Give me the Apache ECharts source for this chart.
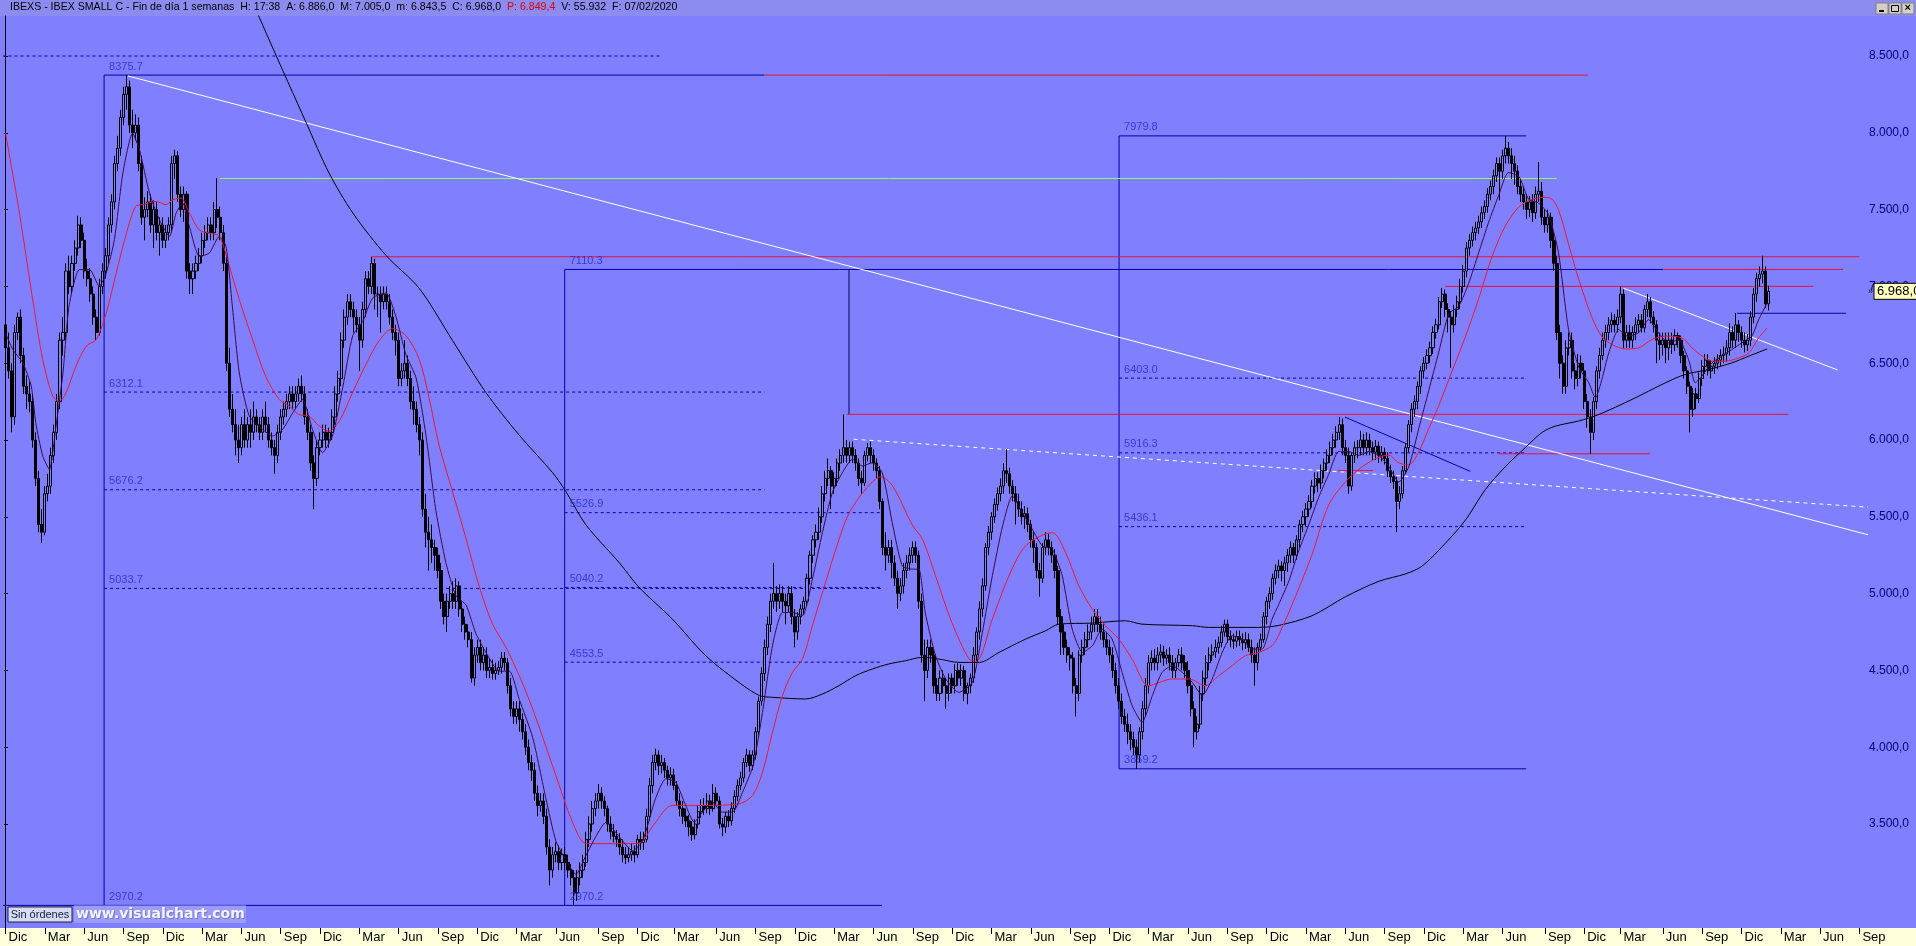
<!DOCTYPE html>
<html><head><meta charset="utf-8">
<script src="https://cdn.jsdelivr.net/npm/echarts@6/dist/echarts.min.js"></script>
<style>
html,body{margin:0;padding:0;width:1916px;height:946px;overflow:hidden;background:#8080ff;}
#hdr{position:absolute;left:0;top:0;width:1916px;height:16px;background:#8c8cf0;}
#strip{position:absolute;left:0;top:928px;width:1916px;height:18px;background:#ffffdc;}
#chart{position:absolute;left:0;top:0;width:1916px;height:946px;}
</style></head><body>
<div id="hdr"></div><div id="strip"></div><div id="chart"></div>
<script>
// ---- categories (weekly bars, Friday dates) ----
const firstWeek = '2008-12-05';
const totalWeeks = 616;
const monthLabels = {2:'Mar',5:'Jun',8:'Sep',11:'Dic'};
const yTickLabels = [3500,4000,4500,5000,5500,6000,6500,7000,7500,8000,8500];

// ---- weekly OHLC ----
const opens = [
6750,6600,6450,6150,6700,6800,6550,6350,6300,6250,
6000,5750,5450,5400,5650,5700,5900,6050,6250,6650,
6700,7100,7000,7150,7250,7400,7300,7100,7050,6950,
6800,6700,7000,7100,7200,7400,7550,7800,7900,8100,
8250,8300,8050,8000,8050,7800,7450,7500,7550,7400,
7500,7350,7400,7300,7350,7400,7800,7850,7600,7500,
7600,7100,7050,7100,7150,7200,7300,7350,7400,7350,
7500,7450,7350,7150,6500,6200,6100,6000,5950,6100,
6000,6100,6050,6150,6100,6050,6150,6100,6000,5950,
5900,6050,6150,6200,6250,6300,6250,6300,6350,6300,
6150,6050,5850,5750,5950,6000,6050,6000,6050,6150,
6300,6400,6650,6800,6900,6850,6800,6750,6650,6850,
7050,7000,7150,6950,6950,6900,6950,6900,6800,6700,
6650,6400,6450,6500,6400,6250,6200,6100,6000,5550,
5400,5350,5300,5250,5150,4950,4850,4950,5000,4950,
5050,4900,4800,4750,4700,4450,4600,4650,4550,4600,
4500,4520,4480,4500,4520,4580,4550,4400,4250,4200,
4250,4180,4100,4000,3900,3850,3700,3620,3650,3550,
3350,3200,3300,3320,3250,3300,3250,3200,3150,3050,
3150,3200,3250,3400,3500,3600,3650,3700,3650,3600,
3500,3450,3420,3400,3350,3300,3280,3300,3320,3300,
3400,3380,3400,3550,3750,3900,3950,3880,3900,3850,
3800,3820,3750,3650,3600,3550,3520,3480,3430,3500,
3580,3620,3600,3650,3600,3700,3650,3500,3480,3550,
3520,3600,3680,3750,3800,3900,3950,3880,3950,4100,
4300,4480,4650,4800,4950,5000,4950,5000,4950,4920,
5000,4850,4750,4850,4900,4950,5100,5250,5350,5400,
5500,5650,5750,5800,5700,5750,5850,5900,5950,5900,
5950,5900,5850,5750,5720,5900,5950,5900,5850,5800,
5600,5300,5250,5300,5200,5100,5000,5050,5150,5200,
5250,5300,5250,4950,4600,4500,4650,4600,4400,4350,
4450,4400,4350,4450,4400,4500,4450,4500,4350,4400,
4450,4600,4750,4900,5050,5300,5400,5500,5580,5650,
5700,5800,5780,5700,5650,5600,5550,5500,5520,5450,
5350,5300,5150,5100,5300,5350,5300,5250,5150,4850,
4750,4650,4600,4580,4400,4350,4600,4650,4700,4750,
4800,4850,4800,4750,4700,4650,4600,4500,4400,4300,
4200,4150,4100,4050,4000,3950,4100,4250,4400,4550,
4580,4550,4600,4620,4580,4600,4550,4500,4550,4600,
4550,4500,4400,4250,4100,4150,4350,4450,4550,4600,
4620,4650,4680,4750,4800,4720,4700,4690,4720,4700,
4680,4700,4650,4600,4550,4650,4700,4850,4950,5000,
5100,5150,5180,5150,5200,5250,5300,5250,5350,5450,
5500,5550,5600,5700,5750,5720,5800,5850,5900,5950,
6000,6050,6100,5950,5900,5700,5900,5950,5950,6000,
5950,6000,5950,5920,5960,5900,5920,5880,5800,5760,
5730,5600,5650,5800,5950,6100,6200,6250,6350,6450,
6500,6550,6600,6700,6750,6900,6950,6850,6800,6750,
6850,6900,7000,7100,7250,7300,7350,7380,7420,7480,
7520,7600,7650,7720,7800,7750,7850,7900,7850,7800,
7750,7650,7600,7550,7500,7550,7480,7600,7620,7450,
7400,7450,7300,7150,6700,6500,6350,6600,6650,6450,
6400,6500,6450,6250,6150,6050,6250,6450,6550,6650,
6700,6750,6780,6750,6800,6950,6650,6700,6650,6700,
6750,6780,6730,6850,6900,6800,6750,6650,6620,6650,
6600,6650,6620,6680,6650,6550,6450,6350,6200,6300,
6270,6400,6480,6520,6450,6480,6500,6520,6550,6560,
6600,6700,6650,6750,6700,6650,6620,6650,6800,6950,
7050,7080,7100,6886];
const highs = [
6820,6700,6500,6750,6830,6850,6600,6420,6380,6300,
6050,5800,5550,5700,5780,5950,6100,6300,6700,6800,
7150,7200,7200,7300,7460,7450,7350,7180,7120,7000,
6850,7050,7150,7250,7450,7600,7850,7980,8150,8300,
8376,8340,8150,8120,8100,7850,7580,7620,7600,7560,
7550,7450,7450,7400,7450,7850,7890,7880,7650,7650,
7620,7150,7150,7200,7250,7350,7400,7450,7450,7550,
7705,7520,7400,7200,6600,6300,6200,6100,6150,6200,
6150,6200,6250,6200,6150,6200,6250,6150,6050,6000,
6100,6200,6250,6300,6350,6350,6350,6400,6420,6350,
6200,6100,5900,6000,6050,6100,6100,6080,6200,6350,
6450,6700,6850,6950,6950,6900,6850,6800,6900,7100,
7100,7193,7180,7000,7000,7000,7000,6950,6850,6750,
6700,6500,6650,6550,6450,6350,6250,6150,6050,5650,
5500,5450,5350,5300,5200,5000,5000,5050,5080,5100,
5080,4950,4850,4800,4750,4650,4700,4700,4650,4650,
4580,4570,4550,4560,4620,4620,4580,4450,4300,4300,
4300,4220,4150,4050,3950,3900,3750,3700,3700,3600,
3400,3350,3380,3360,3340,3350,3300,3240,3200,3200,
3250,3300,3450,3550,3650,3700,3760,3740,3680,3620,
3550,3500,3460,3440,3400,3350,3350,3370,3360,3430,
3450,3450,3600,3800,3950,3990,3980,3950,3930,3880,
3870,3860,3780,3700,3650,3600,3560,3520,3530,3620,
3660,3670,3700,3690,3760,3740,3680,3540,3580,3590,
3640,3720,3790,3840,3930,3990,3980,3980,4130,4330,
4520,4700,4850,5000,5200,5050,5060,5050,5000,5050,
5050,4900,4880,4930,4980,5130,5280,5380,5450,5560,
5700,5800,5880,5830,5790,5880,5940,6167,6000,5990,
5990,5940,5880,5800,5930,5980,5990,5940,5880,5830,
5620,5400,5350,5350,5250,5150,5100,5200,5250,5300,
5340,5340,5280,5000,4700,4700,4700,4650,4450,4500,
4500,4450,4480,4480,4540,4550,4540,4530,4420,4480,
4650,4780,4950,5100,5330,5440,5530,5620,5690,5750,
5850,5940,5820,5740,5700,5650,5600,5570,5560,5480,
5400,5330,5200,5330,5400,5390,5340,5290,5180,4900,
4800,4700,4650,4620,4450,4630,4700,4750,4800,4850,
4900,4900,4850,4800,4750,4700,4650,4550,4450,4350,
4250,4220,4150,4100,4050,4130,4300,4450,4600,4630,
4640,4650,4670,4660,4640,4650,4600,4580,4640,4650,
4600,4560,4450,4300,4200,4400,4500,4600,4650,4670,
4700,4720,4790,4830,4830,4760,4740,4760,4760,4740,
4750,4740,4700,4650,4680,4740,4880,4980,5040,5130,
5190,5220,5210,5240,5290,5340,5330,5380,5480,5540,
5590,5640,5740,5790,5790,5840,5880,5940,5990,6040,
6090,6150,6140,6000,5950,5920,5990,6000,6060,6040,
6050,6040,5990,6000,5990,5960,5950,5920,5840,5800,
5760,5700,5830,5980,6130,6240,6290,6380,6480,6540,
6590,6640,6740,6790,6930,6990,6980,6890,6840,6880,
6940,7050,7140,7290,7340,7390,7420,7460,7520,7560,
7640,7690,7760,7840,7840,7890,7980,7940,7900,7850,
7790,7700,7650,7600,7590,7600,7650,7810,7680,7500,
7500,7480,7350,7200,6750,6550,6650,6700,6700,6500,
6560,6550,6500,6300,6200,6280,6480,6600,6700,6750,
6800,6830,6820,6850,7001,6980,6750,6750,6740,6800,
6820,6820,6880,6950,6930,6840,6780,6700,6700,6700,
6700,6700,6720,6700,6680,6580,6480,6380,6340,6340,
6440,6520,6560,6560,6520,6540,6560,6590,6610,6650,
6760,6740,6827,6780,6740,6700,6690,6840,6990,7090,
7130,7200,7130,7005];
const lows = [
6550,6400,6050,6100,6650,6500,6300,6200,6180,5950,
5700,5400,5330,5380,5600,5650,5850,6000,6200,6550,
6650,6950,6950,7100,7200,7250,7050,7000,6900,6750,
6650,6680,6950,7050,7150,7350,7500,7750,7850,8050,
8150,8000,7900,7950,7750,7400,7300,7450,7350,7250,
7300,7200,7250,7250,7300,7350,7700,7550,7450,7420,
7050,6950,6950,7050,7100,7150,7250,7300,7300,7300,
7380,7300,7100,6450,6150,6050,5900,5850,5900,5950,
5950,5950,6000,6050,6000,6000,6050,5950,5900,5780,
5850,6000,6100,6150,6200,6200,6200,6250,6250,6100,
6000,5800,5550,5700,5900,5950,5950,5950,6000,6100,
6250,6350,6600,6750,6800,6700,6700,6450,6600,6800,
6950,6950,6850,6800,6700,6850,6850,6750,6650,6550,
6350,6350,6400,6350,6200,6100,6050,5900,5500,5300,
5150,5200,5150,5100,4900,4800,4750,4900,4900,4900,
4850,4750,4700,4650,4420,4400,4550,4500,4500,4450,
4450,4440,4440,4470,4480,4500,4350,4200,4150,4150,
4100,4050,3950,3850,3780,3650,3550,3580,3500,3300,
3100,3150,3250,3200,3200,3200,3150,3100,2970,3000,
3100,3150,3220,3350,3450,3550,3600,3600,3550,3450,
3400,3380,3350,3300,3250,3240,3250,3260,3250,3280,
3330,3330,3380,3520,3700,3850,3820,3830,3800,3750,
3750,3720,3620,3550,3500,3480,3420,3390,3400,3470,
3540,3560,3570,3560,3580,3620,3470,3420,3440,3480,
3490,3570,3650,3720,3770,3870,3840,3850,3920,4060,
4270,4430,4600,4750,4900,4880,4900,4880,4800,4880,
4800,4650,4700,4800,4860,4920,5060,5200,5300,5350,
5460,5600,5700,5550,5650,5700,5800,5850,5850,5850,
5850,5800,5700,5650,5700,5860,5850,5800,5750,5550,
5250,5150,5200,5100,5050,4900,4950,5000,5100,5150,
5200,5200,4900,4550,4300,4450,4550,4350,4300,4300,
4350,4250,4300,4350,4350,4400,4400,4300,4280,4350,
4420,4560,4700,4850,5020,5250,5350,5460,5540,5600,
5650,5720,5650,5600,5450,5500,5450,5420,5400,5300,
5200,5100,4980,5070,5250,5250,5200,5100,4800,4600,
4600,4550,4500,4350,4200,4300,4550,4600,4650,4700,
4750,4750,4700,4650,4600,4550,4450,4350,4250,4150,
4100,4020,3980,3950,3860,3900,4050,4200,4350,4500,
4500,4500,4550,4530,4540,4500,4450,4450,4520,4500,
4450,4350,4200,4000,4050,4120,4300,4400,4500,4560,
4580,4610,4650,4720,4680,4650,4640,4650,4660,4630,
4640,4620,4550,4400,4500,4620,4680,4800,4900,4960,
5060,5100,5080,5050,5140,5200,5200,5220,5300,5400,
5440,5500,5560,5650,5660,5680,5750,5800,5850,5900,
5950,6000,5900,5850,5650,5670,5850,5880,5900,5900,
5900,5900,5870,5870,5850,5860,5840,5760,5720,5680,
5400,5550,5620,5780,5920,6050,6150,6200,6300,6400,
6460,6500,6560,6660,6720,6860,6800,6700,6470,6700,
6800,6850,6960,7060,7200,7260,7300,7340,7380,7440,
7480,7560,7600,7680,7560,7700,7800,7800,7700,7660,
7600,7550,7500,7440,7450,7420,7440,7550,7400,7350,
7350,7250,7100,6650,6400,6300,6300,6550,6400,6330,
6350,6400,6200,6080,5910,6000,6200,6400,6520,6600,
6650,6700,6700,6700,6760,6600,6600,6600,6600,6650,
6700,6700,6700,6800,6760,6700,6500,6520,6550,6500,
6520,6560,6580,6600,6500,6400,6300,6050,6150,6200,
6240,6350,6430,6420,6400,6430,6460,6480,6500,6510,
6550,6600,6600,6640,6600,6570,6580,6610,6760,6900,
7000,7020,6860,6843.5];
const closes = [
6600,6450,6150,6700,6800,6550,6350,6300,6250,6000,
5750,5450,5400,5650,5700,5900,6050,6250,6650,6700,
7100,7000,7150,7250,7400,7300,7100,7050,6950,6800,
6700,7000,7100,7200,7400,7550,7800,7900,8100,8250,
8300,8050,8000,8050,7800,7450,7500,7550,7400,7500,
7350,7400,7300,7350,7400,7800,7850,7600,7500,7600,
7100,7050,7100,7150,7200,7300,7350,7400,7350,7500,
7450,7350,7150,6500,6200,6100,6000,5950,6100,6000,
6100,6050,6150,6100,6050,6150,6100,6000,5950,5900,
6050,6150,6200,6250,6300,6250,6300,6350,6300,6150,
6050,5850,5750,5950,6000,6050,6000,6050,6150,6300,
6400,6650,6800,6900,6850,6800,6750,6650,6850,7050,
7000,7150,6950,6950,6900,6950,6900,6800,6700,6650,
6400,6450,6500,6400,6250,6200,6100,6000,5550,5400,
5350,5300,5250,5150,4950,4850,4950,5000,4950,5050,
4900,4800,4750,4700,4450,4600,4650,4550,4600,4500,
4520,4480,4500,4520,4580,4550,4400,4250,4200,4250,
4180,4100,4000,3900,3850,3700,3620,3650,3550,3350,
3200,3300,3320,3250,3300,3250,3200,3150,3050,3150,
3200,3250,3400,3500,3600,3650,3700,3650,3600,3500,
3450,3420,3400,3350,3300,3280,3300,3320,3300,3400,
3380,3400,3550,3750,3900,3950,3880,3900,3850,3800,
3820,3750,3650,3600,3550,3520,3480,3430,3500,3580,
3620,3600,3650,3600,3700,3650,3500,3480,3550,3520,
3600,3680,3750,3800,3900,3950,3880,3950,4100,4300,
4480,4650,4800,4950,5000,4950,5000,4950,4920,5000,
4850,4750,4850,4900,4950,5100,5250,5350,5400,5500,
5650,5750,5800,5700,5750,5850,5900,5950,5900,5950,
5900,5850,5750,5720,5900,5950,5900,5850,5800,5600,
5300,5250,5300,5200,5100,5000,5050,5150,5200,5250,
5300,5250,4950,4600,4500,4650,4600,4400,4350,4450,
4400,4350,4450,4400,4500,4450,4500,4350,4400,4450,
4600,4750,4900,5050,5300,5400,5500,5580,5650,5700,
5800,5780,5700,5650,5600,5550,5500,5520,5450,5350,
5300,5150,5100,5300,5350,5300,5250,5150,4850,4750,
4650,4600,4580,4400,4350,4600,4650,4700,4750,4800,
4850,4800,4750,4700,4650,4600,4500,4400,4300,4200,
4150,4100,4050,4000,3950,4100,4250,4400,4550,4580,
4550,4600,4620,4580,4600,4550,4500,4550,4600,4550,
4500,4400,4250,4100,4150,4350,4450,4550,4600,4620,
4650,4680,4750,4800,4720,4700,4690,4720,4700,4680,
4700,4650,4600,4550,4650,4700,4850,4950,5000,5100,
5150,5180,5150,5200,5250,5300,5250,5350,5450,5500,
5550,5600,5700,5750,5720,5800,5850,5900,5950,6000,
6050,6100,5950,5900,5700,5900,5950,5950,6000,5950,
6000,5950,5920,5960,5900,5920,5880,5800,5760,5730,
5600,5650,5800,5950,6100,6200,6250,6350,6450,6500,
6550,6600,6700,6750,6900,6950,6850,6800,6750,6850,
6900,7000,7100,7250,7300,7350,7380,7420,7480,7520,
7600,7650,7720,7800,7750,7850,7900,7850,7800,7750,
7650,7600,7550,7500,7550,7480,7600,7620,7450,7400,
7450,7300,7150,6700,6500,6350,6600,6650,6450,6400,
6500,6450,6250,6150,6050,6250,6450,6550,6650,6700,
6750,6780,6750,6800,6950,6650,6700,6650,6700,6750,
6780,6730,6850,6900,6800,6750,6650,6620,6650,6600,
6650,6620,6680,6650,6550,6450,6350,6200,6300,6270,
6400,6480,6520,6450,6480,6500,6520,6550,6560,6600,
6700,6650,6750,6700,6650,6620,6650,6800,6950,7050,
7080,7100,6886,6968];

// ---- moving averages: [week, value] ----
const redMA = [[0,7997],[4.6,7477],[9,6914],[12.3,6524],[15.6,6286],[17.8,6253],[20,6307],[23.3,6481],[26.7,6611],[30,6654],[33.3,6827],[36.6,7087],[40,7347],[43,7521],[45.4,7532],[49.8,7553],[53,7532],[55.3,7564],[58,7575],[60.8,7477],[64,7369],[67.4,7347],[70.7,7326],[74,7131],[77.3,6914],[81.7,6654],[86,6416],[90.5,6264],[93.8,6221],[97,6166],[100.4,6156],[103.7,6091],[107,6058],[110.4,6125],[114.8,6310],[119.2,6494],[123.6,6648],[128,6725],[132.4,6679],[136.8,6525],[140,6279],[143.3,5971],[147.8,5664],[152.3,5356],[156.6,5049],[161,4803],[165.5,4649],[169.9,4464],[174.3,4249],[178.7,4003],[183,3757],[187.5,3511],[191.9,3372],[196.3,3372],[200.7,3372],[205.1,3372],[209.5,3375],[214.5,3500],[220.5,3621],[231.5,3621],[242.6,3632],[247,3686],[250.3,3837],[253.6,4097],[256.9,4336],[260.2,4487],[263.5,4574],[266.8,4791],[270.6,5038],[275.6,5354],[279,5527],[284.4,5679],[289.4,5761],[293.3,5701],[300,5441],[303.2,5354],[307.5,5116],[312.9,4812],[318.6,4574],[321,4560],[326.3,4834],[331.8,5116],[337.3,5311],[346.1,5397],[350.5,5267],[354.9,5051],[359.3,4899],[363.7,4791],[368.1,4704],[372.5,4574],[378,4401],[385.8,4444],[391.3,4444],[396.8,4401],[401.2,4466],[405.6,4531],[410,4596],[414.4,4617],[418.8,4661],[421,4731],[426.5,4980],[432,5254],[437.5,5577],[443,5726],[448.6,5826],[454.1,5888],[457.4,5901],[460.7,5851],[464,5838],[467.3,5925],[470.6,6075],[473.9,6224],[478.3,6448],[482.7,6672],[487.1,6920],[491.5,7194],[495.9,7393],[500.4,7517],[504.8,7567],[509.2,7580],[511.4,7567],[513.6,7493],[516.9,7269],[520.2,7045],[524.6,6796],[527.9,6672],[531.2,6621],[535.6,6593],[540,6600],[544.4,6654],[548.8,6676],[554.3,6665],[557.6,6600],[561,6546],[564.3,6513],[568.7,6513],[573.1,6535],[576.4,6567],[579.7,6665],[582.5,6730]];
const fastMA = [[0,6697],[2.4,6589],[5.7,6502],[8.5,6351],[10,6113],[12.3,5896],[14.5,5809],[16.7,6091],[19,6437],[21,6871],[24.4,7109],[27.8,7109],[31,7001],[33.3,7087],[36,7304],[38.8,7737],[42,7997],[44.3,7889],[47.6,7607],[50.9,7434],[54.2,7326],[56.4,7477],[58.6,7542],[60.8,7391],[64.1,7196],[67.4,7217],[70.7,7326],[72.9,7261],[75,6871],[77.3,6437],[80.6,6156],[85,6069],[88.3,6026],[91.6,6069],[95,6177],[98.2,6264],[101.5,6069],[104.8,5917],[108.2,6033],[111.5,6341],[114.8,6679],[118.1,6771],[121.4,6925],[125.8,6956],[129.1,6802],[132.4,6556],[135.8,6402],[139,6033],[142.3,5541],[145.6,5202],[148.9,4987],[152.3,4925],[155.5,4741],[158.8,4618],[163.3,4495],[166.6,4495],[169.9,4310],[174.3,4064],[178.7,3664],[182,3388],[185.3,3265],[188.6,3172],[191.9,3295],[195.2,3418],[198.5,3511],[202.9,3418],[207.3,3326],[210.6,3387],[214.9,3664],[218.3,3794],[221.6,3772],[224.9,3621],[227.7,3512],[230.4,3577],[233.7,3642],[237,3577],[240.4,3577],[243.7,3707],[247.2,3881],[250.3,4227],[253.6,4661],[256.9,4877],[260.3,4877],[263.5,4856],[266.8,5094],[270.1,5397],[273.4,5657],[276.7,5787],[280,5874],[283.3,5831],[286.6,5852],[289.9,5787],[293.2,5462],[296.5,5181],[299.8,5159],[302,5159],[304.1,4877],[307.5,4596],[310.9,4444],[315.2,4357],[319.7,4422],[323,4747],[326.3,5116],[329.7,5441],[332.9,5636],[336.2,5527],[339.5,5419],[342.8,5311],[346.1,5289],[349.4,5116],[352.7,4769],[356.1,4617],[359.4,4661],[362.6,4769],[365.9,4704],[369.2,4487],[372.5,4271],[375.8,4162],[379.2,4336],[382.4,4487],[385.8,4531],[389.1,4487],[392.4,4422],[395.7,4336],[399,4444],[402.3,4617],[405.6,4726],[408.9,4704],[412.2,4639],[415.5,4639],[418.8,4834],[421,4930],[424.3,5080],[427.6,5279],[431,5453],[434.2,5627],[437.5,5776],[440.8,5925],[444.1,5925],[447.5,5900],[450.8,5925],[454.1,5900],[457.4,5826],[460.7,5726],[464,5826],[467.3,6075],[470.6,6323],[473.9,6572],[477.2,6821],[480.5,6871],[483.8,7020],[487.1,7219],[490.4,7418],[493.7,7592],[496.9,7741],[500.4,7716],[503.6,7567],[506.9,7542],[510.2,7468],[513.5,7219],[516.8,6721],[520.2,6473],[523.5,6373],[525.7,6274],[527.9,6398],[530,6560],[533.4,6719],[536.4,6676],[539.9,6697],[543.3,6784],[546.6,6697],[549.9,6632],[553.2,6654],[556.5,6524],[558.7,6372],[560.9,6416],[564.2,6502],[567.5,6546],[570.8,6589],[574.1,6632],[577.4,6676],[579.7,6784],[582.5,6892]];
const slowMA = [[80,8930],[87.2,8604],[99.5,8062],[107,7737],[114.8,7479],[125.8,7202],[136.8,6987],[147.8,6648],[158.8,6310],[169.8,6033],[180.9,5787],[185.3,5664],[191.9,5448],[202.9,5202],[209.5,5040],[220.5,4834],[231.5,4596],[242.5,4422],[249.3,4336],[253.6,4325],[264.6,4314],[270.1,4346],[275.6,4401],[281.1,4466],[286.6,4509],[292.1,4542],[297.6,4563],[303.1,4585],[308.6,4574],[315.3,4552],[322,4552],[328.5,4617],[337.3,4704],[343.9,4758],[348.3,4801],[359.3,4808],[370.3,4823],[375.8,4801],[392.4,4791],[397.9,4780],[414.4,4780],[421,4793],[432,4856],[443.1,4980],[454.1,5080],[463,5129],[468.4,5179],[476.1,5328],[482.7,5478],[489.3,5677],[495.9,5826],[502.5,5950],[508.1,6050],[512.4,6090],[520.2,6124],[526.8,6166],[537.8,6264],[548.8,6372],[555.4,6427],[563.1,6459],[570.8,6502],[576.4,6546],[582.5,6593]];

// ---- drawn annotations: [kind, week0, price0, week1, price1] ----
const drawings = [
 ['nd',-1,8500,216.4,8500],
 ['n',32.6,8375.7,250.8,8375.7],['r',250.8,8375.7,523.3,8375.7],
 ['n',32.6,8375.7,32.6,2970.2],
 ['nd',32.6,6312.1,251,6312.1],['nd',32.6,5676.2,251,5676.2],['nd',32.6,5033.7,289.5,5033.7],
 ['n',-2,2970.2,289.8,2970.2],
 ['n',184.9,7110.3,184.9,2970.2],['n',184.9,7110.3,548.1,7110.3],['r',548.1,7110.3,607.6,7110.3],
 ['nd',184.9,5526.9,289.5,5526.9],['nd',184.9,5040.2,289.5,5040.2],['nd',184.9,4553.5,289.5,4553.5],
 ['k',278.9,7110.3,278.9,6167],
 ['n',368.2,7979.8,368.2,3859.2],['n',368.2,7979.8,502.8,7979.8],['n',368.2,3859.2,502.8,3859.2],
 ['nd',368.2,6403.0,502.8,6403.0],['nd',368.2,5916.3,502.8,5916.3],['nd',368.2,5436.1,502.8,5436.1],
 ['g',70.9,7702.5,513,7702.5],
 ['r',121,7193,613,7193],
 ['r',476,7000,597.7,7000],
 ['n',572.5,6825,608.6,6825],
 ['r',278.3,6167,589.5,6167],
 ['r',493.7,5910,543.8,5910],
 ['r',440.6,5801,452.2,5801],
 ['n',442.9,6149,484.3,5796],
 ['w',40.5,8370,617,5377],
 ['wd',280.4,6005,617,5561],
 ['w',535,6988,605.8,6456]
];
const levelLabels = [
 [32.6,8375.7,'8375.7'],[32.6,6312.1,'6312.1'],[32.6,5676.2,'5676.2'],[32.6,5033.7,'5033.7'],[32.6,2970.2,'2970.2'],
 [184.9,7110.3,'7110.3'],[184.9,5526.9,'5526.9'],[184.9,5040.2,'5040.2'],[184.9,4553.5,'4553.5'],[184.9,2970.2,'2970.2'],
 [368.2,7979.8,'7979.8'],[368.2,6403.0,'6403.0'],[368.2,5916.3,'5916.3'],[368.2,5436.1,'5436.1'],[368.2,3859.2,'3859.2']
];
const headerParts = ['IBEXS - IBEX SMALL C - Fin de día 1 semanas  H: 17:38  A: 6.886,0  M: 7.005,0  m: 6.843,5  C: 6.968,0  ', 'P: 6.849,4', '  V: 55.932  F: 07/02/2020'];

// ---- build ----
const FONT = 'Liberation Sans, Arial, sans-serif';
const styles = {
 nd:{color:'#0000b4',type:[3,3]}, n:{color:'#0000a8',type:'solid'}, r:{color:'#e0143c',type:'solid'},
 g:{color:'#90ff60',type:'solid'}, w:{color:'#ffffff',type:'solid'}, wd:{color:'#ffffff',type:[4,4]}, k:{color:'#000050',type:'solid'}
};
const dates = [];
const t0 = Date.parse(firstWeek + 'T00:00:00Z');
for (let k = 0; k < totalWeeks; k++) dates.push(new Date(t0 + k * 7 * 86400000).toISOString().slice(0, 10));
function isQuarter(idx) {
 const s = dates[idx]; if (!s) return false;
 const m = +s.slice(5, 7) - 1, day = +s.slice(8, 10);
 return (m in monthLabels) && day <= 7;
}
function fmtES(v) {
 const th = Math.floor(v / 1000), r = Math.round(v - th * 1000);
 return (th > 0 ? th + '.' + String(r).padStart(3, '0') : String(r)) + ',0';
}
const candles = closes.map((c, k) => [opens[k], c, lows[k], highs[k]]);

// y scale: 8500 at y=56, 0.1536 px per point; plot from y=16 to y=928
const PX = 0.1536, Y8500 = 56, TOP = 16, BOT = 928;
const yMax = 8500 + (Y8500 - TOP) / PX, yMin = 8500 - (BOT - Y8500) / PX;

const series = [];
drawings.forEach(d => {
 const st = styles[d[0]];
 series.push({type:'line', xAxisIndex:1, yAxisIndex:0, data:[[d[1],d[2]],[d[3],d[4]]], symbol:'none', silent:true,
  lineStyle:{color:st.color, width:1, type:st.type}, z:1, animation:false});
});
series.push({type:'candlestick', xAxisIndex:0, yAxisIndex:0, data:candles, barWidth:2.6, z:3,
 itemStyle:{color:'#8080ff', color0:'#000000', borderColor:'#000000', borderColor0:'#000000', borderWidth:1}, animation:false});
series.push({type:'line', xAxisIndex:1, yAxisIndex:0, data:slowMA, symbol:'none', smooth:0.3, z:4, lineStyle:{color:'#000000', width:1}, animation:false});
series.push({type:'line', xAxisIndex:1, yAxisIndex:0, data:redMA, symbol:'none', smooth:0.3, z:4, lineStyle:{color:'#e8183c', width:1}, animation:false});
series.push({type:'line', xAxisIndex:1, yAxisIndex:0, data:fastMA, symbol:'none', smooth:0.2, z:5, lineStyle:{color:'#3c0846', width:1}, animation:false});
series.push({type:'scatter', xAxisIndex:1, yAxisIndex:0, data:levelLabels, symbolSize:0, z:6, silent:true,
 label:{show:true, position:[5,-14], formatter:p => p.data[2], color:'#2626d0', fontSize:11, fontFamily:FONT}, animation:false});

const chart = echarts.init(document.getElementById('chart'), null, {renderer:'canvas'});
chart.setOption({
 backgroundColor:'transparent',
 animation:false,
 grid:[
  {left:4, right:49, top:TOP, bottom:946 - BOT},
  {left:4, right:49, top:Y8500, bottom:946 - (Y8500 + 5000 * PX)}
 ],
 xAxis:[
  {type:'category', gridIndex:0, data:dates, boundaryGap:true,
   axisLine:{show:false},
   axisTick:{show:true, interval:isQuarter, alignWithLabel:true, length:6, lineStyle:{color:'#000', width:1}},
   axisLabel:{show:true, interval:isQuarter, formatter:v => monthLabels[+v.slice(5,7)-1] || '', align:'left',
     margin:3, padding:[0,0,0,3], color:'#000', fontSize:13, fontFamily:FONT},
   splitLine:{show:false}},
  {type:'value', gridIndex:0, min:-0.5, max:totalWeeks - 0.5, show:false},
  {type:'value', gridIndex:1, min:0, max:1, show:false}
 ],
 yAxis:[
  {type:'value', gridIndex:0, position:'right', min:yMin, max:yMax, splitLine:{show:false},
   axisLine:{show:true, lineStyle:{color:'#000', width:1}}, axisTick:{show:false}, axisLabel:{show:false}},
  {type:'value', gridIndex:1, position:'right', min:yTickLabels[0], max:yTickLabels[yTickLabels.length-1], interval:500,
   splitLine:{show:false}, axisLine:{show:false},
   axisTick:{show:true, length:4, lineStyle:{color:'#000'}},
   axisLabel:{show:true, margin:2, formatter:v => fmtES(v), color:'#00007c', fontSize:12, fontFamily:FONT}}
 ],
 series:series
});

const lastClose = closes[closes.length - 1];
const py = chart.convertToPixel({yAxisIndex:0}, lastClose);
chart.setOption({graphic:[
 {type:'text', left:10, top:2, z:10, style:{text:'{n|' + headerParts[0] + '}{r|' + headerParts[1] + '}{n|' + headerParts[2] + '}',
   rich:{n:{fill:'#000', fontSize:10.6, fontFamily:FONT}, r:{fill:'#e00000', fontSize:10.6, fontFamily:FONT}}}},
 {type:'rect', z:10, shape:{x:1876, y:3, width:12, height:11}, style:{fill:'#d4d0c8', stroke:'#808080', lineWidth:1}},
 {type:'rect', z:10, shape:{x:1889, y:3, width:12, height:11}, style:{fill:'#d4d0c8', stroke:'#808080', lineWidth:1}},
 {type:'rect', z:10, shape:{x:1902, y:3, width:12, height:11}, style:{fill:'#d4d0c8', stroke:'#808080', lineWidth:1}},
 {type:'rect', z:11, shape:{x:1879, y:10, width:5, height:2}, style:{fill:'#000'}},
 {type:'rect', z:11, shape:{x:1891.5, y:5.5, width:7, height:6}, style:{fill:'none', stroke:'#000', lineWidth:1}},
 {type:'text', z:11, x:1904.5, y:2, style:{text:'×', fill:'#000', fontSize:11, fontWeight:'bold', fontFamily:FONT}},
 {type:'rect', z:10, shape:{x:8, y:907, width:64, height:15}, style:{fill:'#d6dcf2', stroke:'#202040', lineWidth:1}},
 {type:'text', z:11, x:40, y:914.5, style:{text:'Sin órdenes', fill:'#102040', fontSize:11, fontFamily:FONT, align:'center', verticalAlign:'middle'}},
 {type:'rect', z:10, shape:{x:74, y:905, width:172, height:18}, style:{fill:'rgba(190,190,255,0.45)'}},
 {type:'text', z:11, x:76, y:914, style:{text:'www.visualchart.com', fill:'#f4f4ff', fontSize:14, fontWeight:'bold', fontFamily:'DejaVu Sans, Verdana, sans-serif', verticalAlign:'middle', textShadowColor:'rgba(90,90,140,0.6)', textShadowBlur:1, textShadowOffsetX:1, textShadowOffsetY:1}},
 {type:'text', z:10, x:1868, y:py, style:{text:'»', fill:'#000', fontSize:9, fontFamily:FONT, verticalAlign:'middle'}},
 {type:'rect', z:10, shape:{x:1874, y:py - 8, width:44, height:16}, style:{fill:'#ffffc0', stroke:'#000', lineWidth:1}},
 {type:'text', z:11, x:1877, y:py, style:{text:fmtES(lastClose), fill:'#000', fontSize:13, fontFamily:FONT, verticalAlign:'middle'}}
]});
</script></body></html>
